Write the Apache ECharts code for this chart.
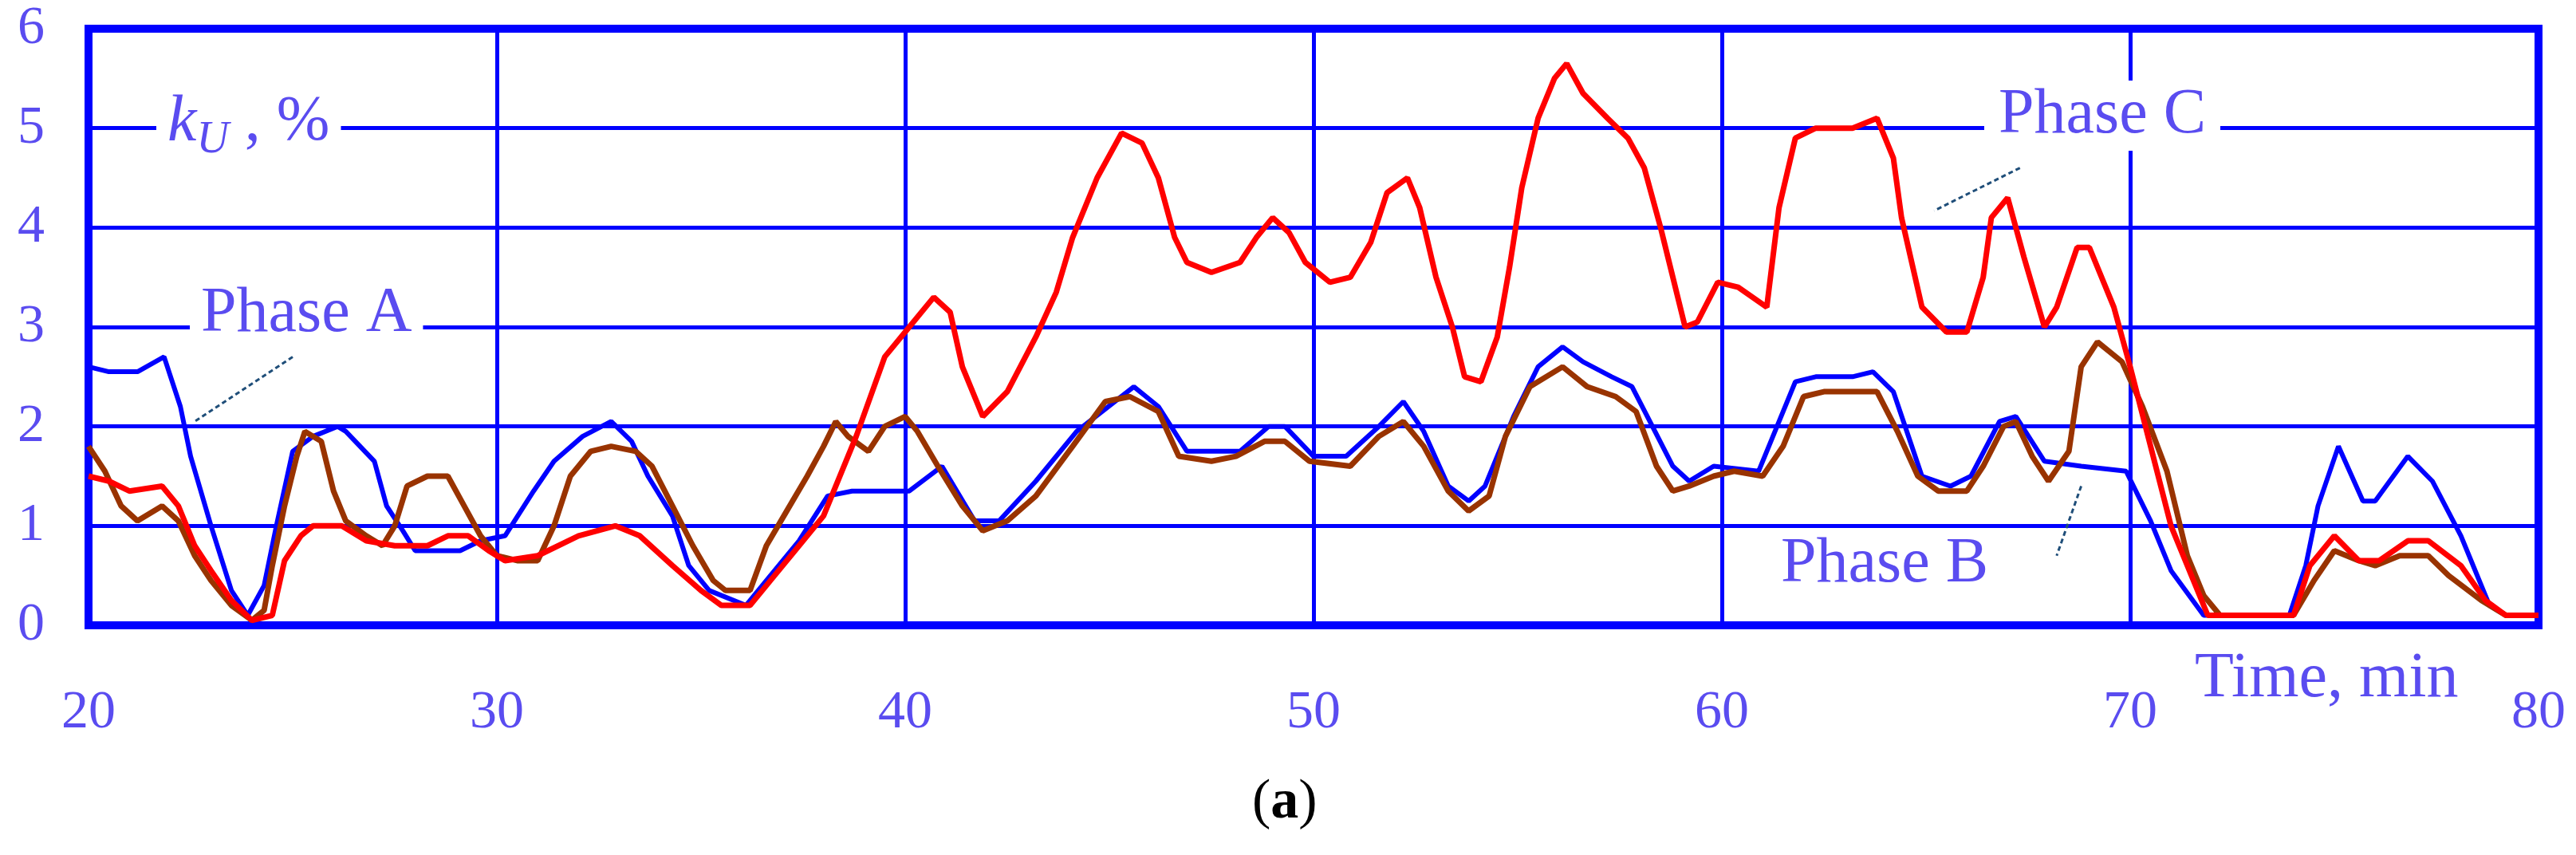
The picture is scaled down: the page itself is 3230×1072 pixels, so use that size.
<!DOCTYPE html>
<html>
<head>
<meta charset="utf-8">
<script src="https://cdn.jsdelivr.net/npm/echarts@6/dist/echarts.min.js"></script>
<style>html,body{margin:0;padding:0;background:#fff}#chart{width:3230px;height:1072px}</style>
</head>
<body>
<div id="chart"></div>
<script>
// [time min, kU %]
const phaseA = [[20,2.6],[20.5,2.55],[21.2,2.55],[21.85,2.7],[22.25,2.2],[22.5,1.7],[23,1.0],[23.5,0.35],[23.9,0.1],[24.3,0.4],[24.6,1.0],[25,1.75],[25.5,1.9],[26.1,2.0],[26.3,1.95],[27,1.65],[27.3,1.2],[27.7,0.95],[28,0.75],[29.1,0.75],[29.6,0.85],[30.2,0.9],[30.9,1.35],[31.4,1.65],[32.1,1.9],[32.8,2.05],[33.3,1.85],[33.7,1.5],[34.3,1.1],[34.7,0.6],[35.2,0.35],[36.1,0.2],[36.6,0.45],[37.4,0.85],[38.1,1.3],[38.7,1.35],[40.1,1.35],[40.9,1.6],[41.7,1.05],[42.3,1.05],[43.2,1.45],[44.2,1.95],[45.6,2.4],[46.2,2.2],[46.9,1.75],[48.2,1.75],[48.9,2.0],[49.3,2.0],[50,1.7],[50.8,1.7],[51.6,2.0],[52.2,2.25],[52.7,1.95],[53.3,1.4],[53.8,1.25],[54.2,1.4],[54.9,2.1],[55.5,2.6],[56.1,2.8],[56.6,2.65],[57.3,2.5],[57.8,2.4],[58.3,2.0],[58.8,1.6],[59.2,1.45],[59.8,1.6],[60.9,1.55],[61.8,2.45],[62.3,2.5],[63.2,2.5],[63.7,2.55],[64.2,2.35],[64.9,1.5],[65.6,1.4],[66.1,1.5],[66.8,2.05],[67.2,2.1],[67.9,1.65],[68.8,1.6],[69.9,1.55],[70.5,1.05],[71,0.55],[71.8,0.1],[73.9,0.1],[74.3,0.6],[74.6,1.2],[75.1,1.8],[75.7,1.25],[76,1.25],[76.8,1.7],[77.4,1.45],[78.1,0.9],[78.8,0.2],[79.2,0.1],[80,0.1]];
const phaseB = [[20,1.8],[20.4,1.55],[20.8,1.2],[21.2,1.05],[21.8,1.2],[22.2,1.05],[22.6,0.7],[23,0.45],[23.5,0.2],[24,0.05],[24.3,0.15],[24.5,0.6],[24.8,1.2],[25.1,1.7],[25.3,1.95],[25.7,1.85],[26,1.35],[26.3,1.05],[26.8,0.9],[27.2,0.8],[27.5,1.0],[27.8,1.4],[28.3,1.5],[28.8,1.5],[29.2,1.2],[29.6,0.9],[30,0.7],[30.5,0.65],[31,0.65],[31.4,1.0],[31.8,1.5],[32.3,1.75],[32.8,1.8],[33.4,1.75],[33.8,1.6],[34.3,1.2],[34.8,0.8],[35.3,0.45],[35.6,0.35],[36.2,0.35],[36.6,0.8],[37.1,1.15],[37.6,1.5],[38,1.8],[38.3,2.05],[38.6,1.9],[39.1,1.75],[39.5,2.0],[40,2.1],[40.3,1.95],[40.8,1.6],[41.4,1.2],[41.9,0.95],[42.5,1.05],[43.2,1.3],[44.1,1.8],[44.9,2.25],[45.5,2.3],[46.2,2.15],[46.7,1.7],[47.5,1.65],[48.1,1.7],[48.8,1.85],[49.3,1.85],[49.9,1.65],[50.9,1.6],[51.6,1.9],[52.2,2.05],[52.7,1.8],[53.3,1.35],[53.8,1.15],[54.3,1.3],[54.7,1.9],[55.3,2.4],[56.1,2.6],[56.7,2.4],[57.4,2.3],[57.9,2.15],[58.4,1.6],[58.8,1.35],[59.2,1.4],[59.8,1.5],[60.3,1.55],[61,1.5],[61.5,1.8],[62,2.3],[62.5,2.35],[63.8,2.35],[64.3,1.95],[64.8,1.5],[65.3,1.35],[66,1.35],[66.4,1.6],[66.9,2.0],[67.2,2.05],[67.6,1.7],[68,1.45],[68.5,1.75],[68.8,2.6],[69.2,2.85],[69.8,2.65],[70.3,2.2],[70.9,1.55],[71.4,0.7],[71.8,0.3],[72.2,0.1],[74,0.1],[74.5,0.45],[75,0.75],[75.6,0.65],[76,0.6],[76.6,0.7],[77.3,0.7],[77.8,0.5],[78.6,0.25],[79.2,0.1],[80,0.1]];
const phaseC = [[20,1.5],[20.5,1.45],[21,1.35],[21.8,1.4],[22.2,1.2],[22.6,0.8],[23,0.55],[23.5,0.25],[24,0.05],[24.5,0.1],[24.8,0.65],[25.2,0.9],[25.5,1.0],[26.2,1.0],[26.8,0.85],[27.5,0.8],[28.3,0.8],[28.8,0.9],[29.3,0.9],[29.8,0.75],[30.2,0.65],[31,0.7],[32,0.9],[32.9,1.0],[33.5,0.9],[34.3,0.6],[35,0.35],[35.5,0.2],[36.2,0.2],[36.7,0.45],[37.4,0.8],[38,1.1],[38.8,1.9],[39.5,2.7],[40.1,3.0],[40.7,3.3],[41.1,3.15],[41.4,2.6],[41.9,2.1],[42.5,2.35],[43.2,2.9],[43.7,3.35],[44.1,3.9],[44.7,4.5],[45.3,4.95],[45.8,4.85],[46.2,4.5],[46.6,3.9],[46.9,3.65],[47.5,3.55],[48.2,3.65],[48.6,3.9],[49,4.1],[49.4,3.95],[49.8,3.65],[50.4,3.45],[50.9,3.5],[51.4,3.85],[51.8,4.35],[52.3,4.5],[52.6,4.2],[53,3.5],[53.4,3.0],[53.7,2.5],[54.1,2.45],[54.5,2.9],[54.8,3.6],[55.1,4.4],[55.5,5.1],[55.9,5.5],[56.2,5.65],[56.6,5.35],[57.2,5.1],[57.7,4.9],[58.1,4.6],[58.5,4.0],[58.8,3.5],[59.1,3.0],[59.4,3.05],[59.9,3.45],[60.4,3.4],[61.1,3.2],[61.4,4.2],[61.8,4.9],[62.3,5.0],[63.2,5.0],[63.8,5.1],[64.2,4.7],[64.4,4.1],[64.9,3.2],[65.5,2.95],[66,2.95],[66.4,3.5],[66.6,4.1],[67,4.3],[67.4,3.7],[67.9,3.0],[68.2,3.2],[68.7,3.8],[69,3.8],[69.6,3.2],[70,2.6],[70.5,1.8],[71,1.0],[71.9,0.1],[74,0.1],[74.4,0.6],[75,0.9],[75.6,0.65],[76.1,0.65],[76.8,0.85],[77.3,0.85],[78.1,0.6],[78.7,0.25],[79.2,0.1],[80,0.1]];
// leader lines [from label, to curve]
const leaderA = [[25.0, 2.7], [22.6, 2.05]];
const leaderB = [[68.8, 1.4], [68.2, 0.7]];
const leaderC = [[67.3, 4.6], [65.2, 4.17]];

const textColor = '#5a4cf0';
const serif = 'Liberation Serif';

const chart = echarts.init(document.getElementById('chart'));
const leader = (pts) => ({
    silent: true, symbol: 'none', label: { show: false },
    lineStyle: { color: '#1f4e79', width: 3, type: [6, 4] },
    data: [[{ coord: pts[0] }, { coord: pts[1] }]]
});
const option = {
    animation: false,
    grid: { left: 111, right: 47, top: 36, bottom: 288, show: true, borderColor: '#0000ff', borderWidth: 10 },
    xAxis: {
        type: 'value', min: 20, max: 80, interval: 10,
        axisLine: { show: false }, axisTick: { show: false },
        splitLine: { lineStyle: { color: '#0000ff', width: 5 } },
        axisLabel: { color: textColor, fontFamily: serif, fontSize: 68, margin: 76 }
    },
    yAxis: {
        type: 'value', min: 0, max: 6, interval: 1,
        axisLine: { show: false }, axisTick: { show: false },
        splitLine: { lineStyle: { color: '#0000ff', width: 5 } },
        axisLabel: { color: textColor, fontFamily: serif, fontSize: 68, margin: 55 }
    },
    series: [
        { name: 'Phase A', type: 'line', data: phaseA, showSymbol: false, lineStyle: { color: '#0000ff', width: 6 }, markLine: leader(leaderA), z: 3 },
        { name: 'Phase B', type: 'line', data: phaseB, showSymbol: false, lineStyle: { color: '#993300', width: 7 }, markLine: leader(leaderB), z: 4 },
        { name: 'Phase C', type: 'line', data: phaseC, showSymbol: false, lineStyle: { color: '#ff0000', width: 7 }, markLine: leader(leaderC), z: 5 }
    ],
    graphic: [
        { type: 'text', left: 196, top: 100, z: 10, style: {
            text: '{k|k}{u|U}{t| , %}', backgroundColor: '#fff', padding: [4, 14],
            rich: {
                k: { fontFamily: serif, fontStyle: 'italic', fontSize: 82, fill: textColor },
                u: { fontFamily: serif, fontStyle: 'italic', fontSize: 56, fill: textColor, padding: [44, 0, 0, 0] },
                t: { fontFamily: serif, fontSize: 80, fill: textColor }
            } } },
        { type: 'text', left: 238, top: 350, z: 10, style: { text: 'Phase A', font: '80px "Liberation Serif"', fill: textColor, backgroundColor: '#fff', padding: [4, 14] } },
        { type: 'text', left: 2488, top: 101, z: 10, style: { text: 'Phase C', font: '80px "Liberation Serif"', fill: textColor, backgroundColor: '#fff', padding: [4, 18] } },
        { type: 'text', left: 2233, top: 668, z: 10, style: { text: 'Phase B', font: '80px "Liberation Serif"', fill: textColor } },
        { type: 'text', left: 2752, top: 812, z: 10, style: { text: 'Time, min', font: '80px "Liberation Serif"', fill: textColor, backgroundColor: '#fff' } },
        { type: 'text', left: 1570, top: 972, z: 10, style: { text: '{p|(}{a|a}{p|)}', rich: {
            p: { fontFamily: serif, fontSize: 70, fill: '#000' },
            a: { fontFamily: serif, fontSize: 70, fontWeight: 'bold', fill: '#000' } } } }
    ]
};
chart.setOption(option);
</script>
</body>
</html>
